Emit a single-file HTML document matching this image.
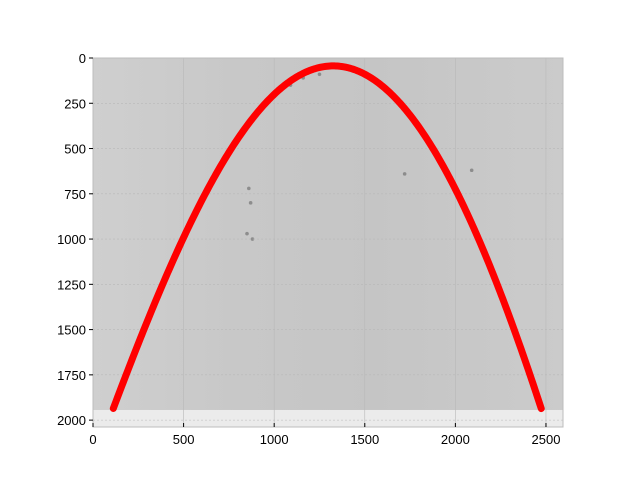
<!DOCTYPE html>
<html><head><meta charset="utf-8"><style>
body{margin:0;background:#fff;width:640px;height:480px;overflow:hidden}
svg text{font-family:"Liberation Sans","DejaVu Sans",sans-serif;font-size:13px;fill:#000}
</style></head><body>
<svg id="chart" width="640" height="480">
<defs>
<linearGradient id="bg" x1="0" x2="1" y1="0" y2="0">
<stop offset="0" stop-color="#cfcfcf"/><stop offset="0.3" stop-color="#c8c8c8"/><stop offset="0.6" stop-color="#c5c5c5"/><stop offset="1" stop-color="#cbcbcb"/>
</linearGradient>
</defs>
<rect x="93" y="58" width="470" height="369" fill="#ebebeb"/>
<g id="img"></g>
<g id="grid"></g>
<g id="series"></g>
<rect x="93" y="58" width="470" height="369" fill="none" stroke="#bcbcbc" stroke-width="1"/>
<g id="ticks"></g>
</svg>
<script>
const xTicks=[0,500,1000,1500,2000,2500];
const yTicks=[0,250,500,750,1000,1250,1500,1750,2000];
const curveX=[112,200,300,395,482,605,745,930,1100,1220,1335,1450,1575,1722,1897,2027,2130,2222,2310,2392,2474];
const curveY=[1934,1750,1500,1250,1000,750,500,250,110,68,48,64,110,250,500,750,1000,1250,1500,1750,1934];
const blobX=[860,870,850,880,1090,1160,1250,1720,2090];
const blobY=[720,800,970,1000,150,110,90,640,620];
const imgW=2592, imgH=1944;
const xMax=2594, yMax=2038;
const L=93,T=58,W=470,H=369;
const sx=v=>L+v/xMax*W, sy=v=>T+v/yMax*H;
const NS="http://www.w3.org/2000/svg";
function mk(tag,attrs,parent){const e=document.createElementNS(NS,tag);for(const k in attrs)e.setAttribute(k,attrs[k]);parent.appendChild(e);return e;}
const img=document.getElementById('img');
const r=mk('rect',{x:sx(0),y:sy(0),width:sx(imgW)-sx(0),height:sy(imgH)-sy(0),fill:'url(#bg)'},img);


blobX.forEach((x,i)=>{const c=mk('circle',{cx:sx(x),cy:sy(blobY[i]),r:1.8,fill:'#666',opacity:0.6},img);

});
const grid=document.getElementById('grid');
xTicks.forEach(t=>{const g=mk('line',{x1:sx(t),x2:sx(t),y1:T,y2:T+H,stroke:'#b8b8b8','stroke-width':0.6},grid);

});
yTicks.forEach(t=>{const g=mk('line',{x1:L,x2:L+W,y1:sy(t),y2:sy(t),stroke:'#b8b8b8','stroke-width':0.6,'stroke-dasharray':'2,2'},grid);

});
function polyfit(xs,ys,deg){const m=deg+1,A=[];const cx=1300,s=1200;const n=xs.length;
let top=0;ys.forEach((y,i)=>{if(y<ys[top])top=i;});
for(let i=0;i<m;i++){A.push(new Array(m+1).fill(0));}
xs.forEach((x,k)=>{const w=(k===0||k===n-1||k===top)?30:1;const u=(x-cx)/s;const p=[];for(let i=0;i<m;i++)p.push(Math.pow(u,i));
for(let i=0;i<m;i++){for(let j=0;j<m;j++)A[i][j]+=w*p[i]*p[j];A[i][m]+=w*p[i]*ys[k];}});
for(let i=0;i<m;i++){let piv=i;for(let r=i+1;r<m;r++)if(Math.abs(A[r][i])>Math.abs(A[piv][i]))piv=r;[A[i],A[piv]]=[A[piv],A[i]];
for(let r=0;r<m;r++){if(r===i)continue;const f=A[r][i]/A[i][i];for(let c=i;c<=m;c++)A[r][c]-=f*A[i][c];}}
const co=A.map((row,i)=>row[m]/row[i]);
return x=>{const u=(x-cx)/s;let v=0;for(let i=m-1;i>=0;i--)v=v*u+co[i];return v;};}
const f=polyfit(curveX,curveY,4);
const x0=curveX[0],x1=curveX[curveX.length-1];
let d='';
for(let k=0;k<=300;k++){const x=x0+(x1-x0)*k/300;d+=(k?'L':'M')+sx(x).toFixed(2)+','+sy(f(x)).toFixed(2);}
const path=mk('path',{d:d,fill:'none',stroke:'#ff0000','stroke-width':7,'stroke-linecap':'round','stroke-linejoin':'round'},document.getElementById('series'));


const tk=document.getElementById('ticks');
xTicks.forEach(t=>{mk('line',{x1:sx(t),x2:sx(t),y1:T+H,y2:T+H-4,stroke:'#000'},tk);
const tx=mk('text',{x:sx(t),y:T+H+17,'text-anchor':'middle'},tk);tx.textContent=t;

});
yTicks.forEach(t=>{mk('line',{x1:L,x2:L-4,y1:sy(t),y2:sy(t),stroke:'#000'},tk);
const tx=mk('text',{x:L-7,y:sy(t)+5,'text-anchor':'end'},tk);tx.textContent=t;

});
</script>
</body></html>
